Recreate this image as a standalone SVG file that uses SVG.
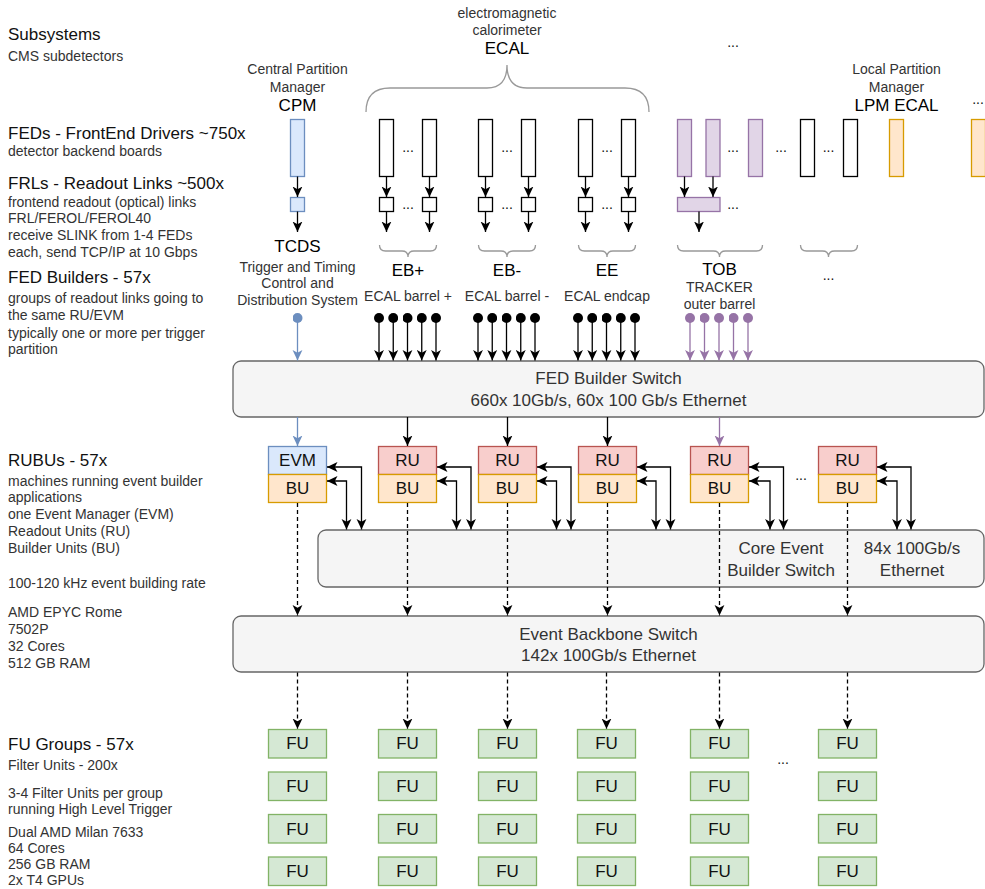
<svg xmlns="http://www.w3.org/2000/svg" width="985" height="889" viewBox="0 0 985 889">
<style>
text{font-family:"Liberation Sans",Arial,Helvetica,sans-serif}
.h{font-size:17px;fill:#111}
.s{font-size:14px;fill:#333}
.c{text-anchor:middle}
.big{font-size:17px;fill:#000}
.lbl{font-size:14px;fill:#333}
.sw{font-size:17px;fill:#333}
.box{font-size:17px;fill:#111}
.dots{font-size:14px;fill:#111;text-anchor:middle}
.fed{fill:#fff;stroke:#000;stroke-width:1.3}
.blue{fill:#dae8fc;stroke:#6c8ebf;stroke-width:1.3}
.purple{fill:#e1d5e7;stroke:#9673a6;stroke-width:1.3}
.orange{fill:#ffe6cc;stroke:#d79b00;stroke-width:1.3}
.red{fill:#f8cecc;stroke:#b85450;stroke-width:1.3}
.green{fill:#d5e8d4;stroke:#82b366;stroke-width:1.3}
.switch{fill:#f5f5f5;stroke:#666;stroke-width:1.3}
.brace{fill:none;stroke:#999;stroke-width:1.3}
.a{fill:none;stroke:#000;stroke-width:1.3;marker-end:url(#ak)}
.ab{fill:none;stroke:#6c8ebf;stroke-width:1.3;marker-end:url(#ab)}
.ap{fill:none;stroke:#9673a6;stroke-width:1.3;marker-end:url(#ap)}
.dk{marker-start:url(#ok)}
.db{marker-start:url(#ob)}
.dp{marker-start:url(#op)}
.bi{fill:none;stroke:#000;stroke-width:1.3;marker-start:url(#ak);marker-end:url(#ak)}
.d{fill:none;stroke:#000;stroke-width:1.3;stroke-dasharray:4 3;marker-end:url(#ak)}
</style>
<defs>
<marker id="ak" viewBox="0 0 10 10" refX="10" refY="5" markerWidth="10.5" markerHeight="10.5" markerUnits="userSpaceOnUse" orient="auto-start-reverse"><path d="M0,0.3 L10,5 L0,9.7 L2.5,5 z" fill="#000"/></marker>
<marker id="ab" viewBox="0 0 10 10" refX="10" refY="5" markerWidth="10.5" markerHeight="10.5" markerUnits="userSpaceOnUse" orient="auto"><path d="M0,0.3 L10,5 L0,9.7 L2.5,5 z" fill="#6c8ebf"/></marker>
<marker id="ap" viewBox="0 0 10 10" refX="10" refY="5" markerWidth="10.5" markerHeight="10.5" markerUnits="userSpaceOnUse" orient="auto"><path d="M0,0.3 L10,5 L0,9.7 L2.5,5 z" fill="#9673a6"/></marker>
<marker id="ok" viewBox="0 0 10 10" refX="5" refY="5" markerWidth="10" markerHeight="10" markerUnits="userSpaceOnUse"><circle cx="5" cy="5" r="5" fill="#000"/></marker>
<marker id="ob" viewBox="0 0 10 10" refX="5" refY="5" markerWidth="10" markerHeight="10" markerUnits="userSpaceOnUse"><circle cx="5" cy="5" r="5" fill="#6c8ebf"/></marker>
<marker id="op" viewBox="0 0 10 10" refX="5" refY="5" markerWidth="10" markerHeight="10" markerUnits="userSpaceOnUse"><circle cx="5" cy="5" r="5" fill="#9673a6"/></marker>
</defs>
<rect width="985" height="889" fill="#fff"/>

<g id="legend">
<text class="h" x="8" y="40">Subsystems</text>
<text class="s" x="8" y="61">CMS subdetectors</text>
<text class="h" x="8" y="139">FEDs - FrontEnd Drivers ~750x</text>
<text class="s" x="8" y="156">detector backend boards</text>
<text class="h" x="8" y="189">FRLs - Readout Links ~500x</text>
<text class="s" x="8" y="207">frontend readout (optical) links</text>
<text class="s" x="8" y="223">FRL/FEROL/FEROL40</text>
<text class="s" x="8" y="240">receive SLINK from 1-4 FEDs</text>
<text class="s" x="8" y="257">each, send TCP/IP at 10 Gbps</text>
<text class="h" x="8" y="283">FED Builders - 57x</text>
<text class="s" x="8" y="303">groups of readout links going to</text>
<text class="s" x="8" y="320">the same RU/EVM</text>
<text class="s" x="8" y="338">typically one or more per trigger</text>
<text class="s" x="8" y="354">partition</text>
<text class="h" x="8" y="466">RUBUs - 57x</text>
<text class="s" x="8" y="486">machines running event builder</text>
<text class="s" x="8" y="502">applications</text>
<text class="s" x="8" y="519">one Event Manager (EVM)</text>
<text class="s" x="8" y="536">Readout Units (RU)</text>
<text class="s" x="8" y="553">Builder Units (BU)</text>
<text class="s" x="8" y="588">100-120 kHz event building rate</text>
<text class="s" x="8" y="617">AMD EPYC Rome</text>
<text class="s" x="8" y="634">7502P</text>
<text class="s" x="8" y="651">32 Cores</text>
<text class="s" x="8" y="668">512 GB RAM</text>
<text class="h" x="8" y="750">FU Groups - 57x</text>
<text class="s" x="8" y="770">Filter Units - 200x</text>
<text class="s" x="8" y="798">3-4 Filter Units per group</text>
<text class="s" x="8" y="814">running High Level Trigger</text>
<text class="s" x="8" y="837">Dual AMD Milan 7633</text>
<text class="s" x="8" y="853">64 Cores</text>
<text class="s" x="8" y="869">256 GB RAM</text>
<text class="s" x="8" y="885">2x T4 GPUs</text>
</g>

<g id="cpm">
<text class="lbl c" x="297.5" y="74">Central Partition</text>
<text class="lbl c" x="297.5" y="92">Manager</text>
<text class="big c" x="297.5" y="111">CPM</text>
<rect class="blue" x="290.5" y="119.5" width="14" height="57"/>
<rect class="blue" x="290.5" y="197.5" width="14" height="14"/>
<text class="big c" x="297.5" y="252">TCDS</text>
<text class="lbl c" x="297.5" y="272">Trigger and Timing</text>
<text class="lbl c" x="297.5" y="288">Control and</text>
<text class="lbl c" x="297.5" y="305">Distribution System</text>
</g>

<g id="ecal">
<text class="lbl c" x="507" y="18">electromagnetic</text>
<text class="lbl c" x="507" y="35">calorimeter</text>
<text class="big c" x="507" y="54">ECAL</text>
<path class="brace" d="M366,112 Q366,88 390,88 L487,88 Q507,88 507,65 Q507,88 527,88 L625,88 Q649,88 649,112"/>
</g>

<g id="eb-plus">
<rect class="fed" x="379.5" y="119.5" width="14" height="57"/>
<rect class="fed" x="422.5" y="119.5" width="14" height="57"/>
<text class="dots" x="408" y="152">...</text>
<rect class="fed" x="379.5" y="197.5" width="14" height="14"/>
<rect class="fed" x="422.5" y="197.5" width="14" height="14"/>
<text class="dots" x="408" y="209">...</text>
<path class="brace" d="M379.5,245 Q379.5,251 385.5,251 L402,251 Q408,251 408,257 Q408,251 414,251 L430.5,251 Q436.5,251 436.5,245"/>
<text class="big c" x="408" y="276">EB+</text>
<text class="lbl c" x="408" y="301">ECAL barrel +</text>
</g>

<g id="eb-minus">
<rect class="fed" x="478.5" y="119.5" width="14" height="57"/>
<rect class="fed" x="521.5" y="119.5" width="14" height="57"/>
<text class="dots" x="507" y="152">...</text>
<rect class="fed" x="478.5" y="197.5" width="14" height="14"/>
<rect class="fed" x="521.5" y="197.5" width="14" height="14"/>
<text class="dots" x="507" y="209">...</text>
<path class="brace" d="M478.5,245 Q478.5,251 484.5,251 L501,251 Q507,251 507,257 Q507,251 513,251 L529.5,251 Q535.5,251 535.5,245"/>
<text class="big c" x="507" y="276">EB-</text>
<text class="lbl c" x="507" y="301">ECAL barrel -</text>
</g>

<g id="ee">
<rect class="fed" x="578.5" y="119.5" width="14" height="57"/>
<rect class="fed" x="621.5" y="119.5" width="14" height="57"/>
<text class="dots" x="607" y="152">...</text>
<rect class="fed" x="578.5" y="197.5" width="14" height="14"/>
<rect class="fed" x="621.5" y="197.5" width="14" height="14"/>
<text class="dots" x="607" y="209">...</text>
<path class="brace" d="M578.5,245 Q578.5,251 584.5,251 L601,251 Q607,251 607,257 Q607,251 613,251 L629.5,251 Q635.5,251 635.5,245"/>
<text class="big c" x="607" y="276">EE</text>
<text class="lbl c" x="607" y="301">ECAL endcap</text>
</g>

<g id="tob">
<text class="dots" x="733" y="47">...</text>
<rect class="purple" x="677.5" y="119.5" width="14" height="57"/>
<rect class="purple" x="706" y="119.5" width="14" height="57"/>
<rect class="purple" x="748.5" y="119.5" width="14" height="57"/>
<text class="dots" x="733" y="152">...</text>
<rect class="purple" x="677.5" y="197.5" width="42.5" height="14"/>
<text class="dots" x="733" y="209">...</text>
<path class="brace" d="M677.5,245 Q677.5,251 683.5,251 L713.5,251 Q719.5,251 719.5,257 Q719.5,251 725.5,251 L756.5,251 Q762.5,251 762.5,245"/>
<text class="big c" x="719.5" y="275">TOB</text>
<text class="lbl c" x="719.5" y="292">TRACKER</text>
<text class="lbl c" x="719.5" y="309">outer barrel</text>
</g>

<g id="other-subsystem">
<text class="dots" x="781" y="152">...</text>
<rect class="fed" x="800.5" y="119.5" width="14" height="57"/>
<rect class="fed" x="843.5" y="119.5" width="14" height="57"/>
<text class="dots" x="828.5" y="152">...</text>
<path class="brace" d="M800.5,245 Q800.5,251 806.5,251 L822.5,251 Q828.5,251 828.5,257 Q828.5,251 834.5,251 L851.5,251 Q857.5,251 857.5,245"/>
<text class="dots" x="828.5" y="280">...</text>
</g>

<g id="lpm">
<text class="lbl c" x="896.5" y="74">Local Partition</text>
<text class="lbl c" x="896.5" y="92">Manager</text>
<text class="big c" x="896.5" y="111">LPM ECAL</text>
<rect class="orange" x="889.5" y="119.5" width="14" height="57"/>
<text class="dots" x="978" y="104">...</text>
<rect class="orange" x="971.5" y="119.5" width="14" height="57"/>
</g>

<g id="fed-builder-switch">
<rect class="switch" x="233" y="361" width="751" height="56" rx="8"/>
<text class="sw c" x="608.5" y="384">FED Builder Switch</text>
<text class="sw c" x="608.5" y="406">660x 10Gb/s, 60x 100 Gb/s Ethernet</text>
</g>

<g id="rubus">
<rect class="blue" x="268.5" y="446.5" width="58" height="28"/>
<text class="box c" x="297.5" y="466">EVM</text>
<rect class="orange" x="268.5" y="474.5" width="58" height="28"/>
<text class="box c" x="297.5" y="494">BU</text>
<rect class="red" x="378.5" y="446.5" width="58" height="28"/>
<text class="box c" x="407.5" y="466">RU</text>
<rect class="orange" x="378.5" y="474.5" width="58" height="28"/>
<text class="box c" x="407.5" y="494">BU</text>
<rect class="red" x="478.5" y="446.5" width="58" height="28"/>
<text class="box c" x="507.5" y="466">RU</text>
<rect class="orange" x="478.5" y="474.5" width="58" height="28"/>
<text class="box c" x="507.5" y="494">BU</text>
<rect class="red" x="578.5" y="446.5" width="58" height="28"/>
<text class="box c" x="607.5" y="466">RU</text>
<rect class="orange" x="578.5" y="474.5" width="58" height="28"/>
<text class="box c" x="607.5" y="494">BU</text>
<rect class="red" x="690.5" y="446.5" width="58" height="28"/>
<text class="box c" x="719.5" y="466">RU</text>
<rect class="orange" x="690.5" y="474.5" width="58" height="28"/>
<text class="box c" x="719.5" y="494">BU</text>
<text class="dots" x="801" y="480">...</text>
<rect class="red" x="818.5" y="446.5" width="58" height="28"/>
<text class="box c" x="847.5" y="466">RU</text>
<rect class="orange" x="818.5" y="474.5" width="58" height="28"/>
<text class="box c" x="847.5" y="494">BU</text>
</g>

<g id="core-event-builder-switch">
<rect class="switch" x="318" y="530" width="666" height="57" rx="8"/>
<text class="sw c" x="781" y="554">Core Event</text>
<text class="sw c" x="781" y="576">Builder Switch</text>
<text class="sw c" x="912" y="554">84x 100Gb/s</text>
<text class="sw c" x="912" y="576">Ethernet</text>
</g>

<g id="event-backbone-switch">
<rect class="switch" x="233" y="616" width="751" height="56" rx="8"/>
<text class="sw c" x="608.5" y="640">Event Backbone Switch</text>
<text class="sw c" x="608.5" y="661">142x 100Gb/s Ethernet</text>
</g>

<g id="fu-groups">
<g id="fu-col1">
<rect class="green" x="268.5" y="729.5" width="58" height="28.5"/><text class="box c" x="297.5" y="749">FU</text>
<rect class="green" x="268.5" y="772" width="58" height="28.5"/><text class="box c" x="297.5" y="792">FU</text>
<rect class="green" x="268.5" y="814.5" width="58" height="28.5"/><text class="box c" x="297.5" y="834.5">FU</text>
<rect class="green" x="268.5" y="857" width="58" height="28.5"/><text class="box c" x="297.5" y="877">FU</text>
</g>
<g id="fu-col2">
<rect class="green" x="378.5" y="729.5" width="58" height="28.5"/><text class="box c" x="407.5" y="749">FU</text>
<rect class="green" x="378.5" y="772" width="58" height="28.5"/><text class="box c" x="407.5" y="792">FU</text>
<rect class="green" x="378.5" y="814.5" width="58" height="28.5"/><text class="box c" x="407.5" y="834.5">FU</text>
<rect class="green" x="378.5" y="857" width="58" height="28.5"/><text class="box c" x="407.5" y="877">FU</text>
</g>
<g id="fu-col3">
<rect class="green" x="478.5" y="729.5" width="58" height="28.5"/><text class="box c" x="507.5" y="749">FU</text>
<rect class="green" x="478.5" y="772" width="58" height="28.5"/><text class="box c" x="507.5" y="792">FU</text>
<rect class="green" x="478.5" y="814.5" width="58" height="28.5"/><text class="box c" x="507.5" y="834.5">FU</text>
<rect class="green" x="478.5" y="857" width="58" height="28.5"/><text class="box c" x="507.5" y="877">FU</text>
</g>
<g id="fu-col4">
<rect class="green" x="577.5" y="729.5" width="58" height="28.5"/><text class="box c" x="606.5" y="749">FU</text>
<rect class="green" x="577.5" y="772" width="58" height="28.5"/><text class="box c" x="606.5" y="792">FU</text>
<rect class="green" x="577.5" y="814.5" width="58" height="28.5"/><text class="box c" x="606.5" y="834.5">FU</text>
<rect class="green" x="577.5" y="857" width="58" height="28.5"/><text class="box c" x="606.5" y="877">FU</text>
</g>
<g id="fu-col5">
<rect class="green" x="690.5" y="729.5" width="58" height="28.5"/><text class="box c" x="719.5" y="749">FU</text>
<rect class="green" x="690.5" y="772" width="58" height="28.5"/><text class="box c" x="719.5" y="792">FU</text>
<rect class="green" x="690.5" y="814.5" width="58" height="28.5"/><text class="box c" x="719.5" y="834.5">FU</text>
<rect class="green" x="690.5" y="857" width="58" height="28.5"/><text class="box c" x="719.5" y="877">FU</text>
</g>
<text class="dots" x="783" y="764">...</text>
<g id="fu-col6">
<rect class="green" x="818.5" y="729.5" width="58" height="28.5"/><text class="box c" x="847.5" y="749">FU</text>
<rect class="green" x="818.5" y="772" width="58" height="28.5"/><text class="box c" x="847.5" y="792">FU</text>
<rect class="green" x="818.5" y="814.5" width="58" height="28.5"/><text class="box c" x="847.5" y="834.5">FU</text>
<rect class="green" x="818.5" y="857" width="58" height="28.5"/><text class="box c" x="847.5" y="877">FU</text>
</g>
</g>

<g id="connectors">
<path class="a" d="M297.5,176.5 V197"/>
<path class="a" d="M297.5,211.5 V232"/>
<path class="a" d="M386.5,176.5 V197"/><path class="a" d="M429.5,176.5 V197"/>
<path class="a" d="M386.5,211.5 V232"/><path class="a" d="M429.5,211.5 V232"/>
<path class="a" d="M485.5,176.5 V197"/><path class="a" d="M528.5,176.5 V197"/>
<path class="a" d="M485.5,211.5 V232"/><path class="a" d="M528.5,211.5 V232"/>
<path class="a" d="M585.5,176.5 V197"/><path class="a" d="M628.5,176.5 V197"/>
<path class="a" d="M585.5,211.5 V232"/><path class="a" d="M628.5,211.5 V232"/>
<path class="a" d="M684.5,176.5 V197"/><path class="a" d="M713,176.5 V197"/>
<path class="a" d="M699,211.5 V232"/>

<path class="ab db" d="M297.5,318 V360.5"/>
<path class="a dk" d="M379,318 V360.5"/><path class="a dk" d="M393.25,318 V360.5"/><path class="a dk" d="M407.5,318 V360.5"/><path class="a dk" d="M421.75,318 V360.5"/><path class="a dk" d="M436,318 V360.5"/>
<path class="a dk" d="M478,318 V360.5"/><path class="a dk" d="M492.25,318 V360.5"/><path class="a dk" d="M506.5,318 V360.5"/><path class="a dk" d="M520.75,318 V360.5"/><path class="a dk" d="M535,318 V360.5"/>
<path class="a dk" d="M578,318 V360.5"/><path class="a dk" d="M592.25,318 V360.5"/><path class="a dk" d="M606.5,318 V360.5"/><path class="a dk" d="M620.75,318 V360.5"/><path class="a dk" d="M635,318 V360.5"/>
<path class="ap dp" d="M690,318 V360.5"/><path class="ap dp" d="M704.5,318 V360.5"/><path class="ap dp" d="M719,318 V360.5"/><path class="ap dp" d="M733.5,318 V360.5"/><path class="ap dp" d="M748,318 V360.5"/>

<path class="ab" d="M297.5,417 V446"/>
<path class="a" d="M407.5,417 V446"/>
<path class="a" d="M507.5,417 V446"/>
<path class="a" d="M607.5,417 V446"/>
<path class="ap" d="M719.5,417 V446"/>

<path class="bi" d="M361.5,529.5 V467 H327"/><path class="bi" d="M346.5,529.5 V481 H327"/>
<path class="bi" d="M471,529.5 V467 H437"/><path class="bi" d="M456.5,529.5 V481 H437"/>
<path class="bi" d="M571,529.5 V467 H537"/><path class="bi" d="M556.5,529.5 V481 H537"/>
<path class="bi" d="M670.5,529.5 V467 H637"/><path class="bi" d="M656,529.5 V481 H637"/>
<path class="bi" d="M783.5,529.5 V467 H749"/><path class="bi" d="M770,529.5 V481 H749"/>
<path class="bi" d="M911,529.5 V467 H877"/><path class="bi" d="M897,529.5 V481 H877"/>

<path class="d" d="M297.5,503 V615.5"/>
<path class="d" d="M407.5,503 V615.5"/>
<path class="d" d="M507.5,503 V615.5"/>
<path class="d" d="M607.5,503 V615.5"/>
<path class="d" d="M719.5,503 V615.5"/>
<path class="d" d="M847.5,503 V615.5"/>
<path class="d" d="M297.5,672.5 V729"/>
<path class="d" d="M407.5,672.5 V729"/>
<path class="d" d="M507.5,672.5 V729"/>
<path class="d" d="M606.5,672.5 V729"/>
<path class="d" d="M719.5,672.5 V729"/>
<path class="d" d="M847.5,672.5 V729"/>
</g>
</svg>
